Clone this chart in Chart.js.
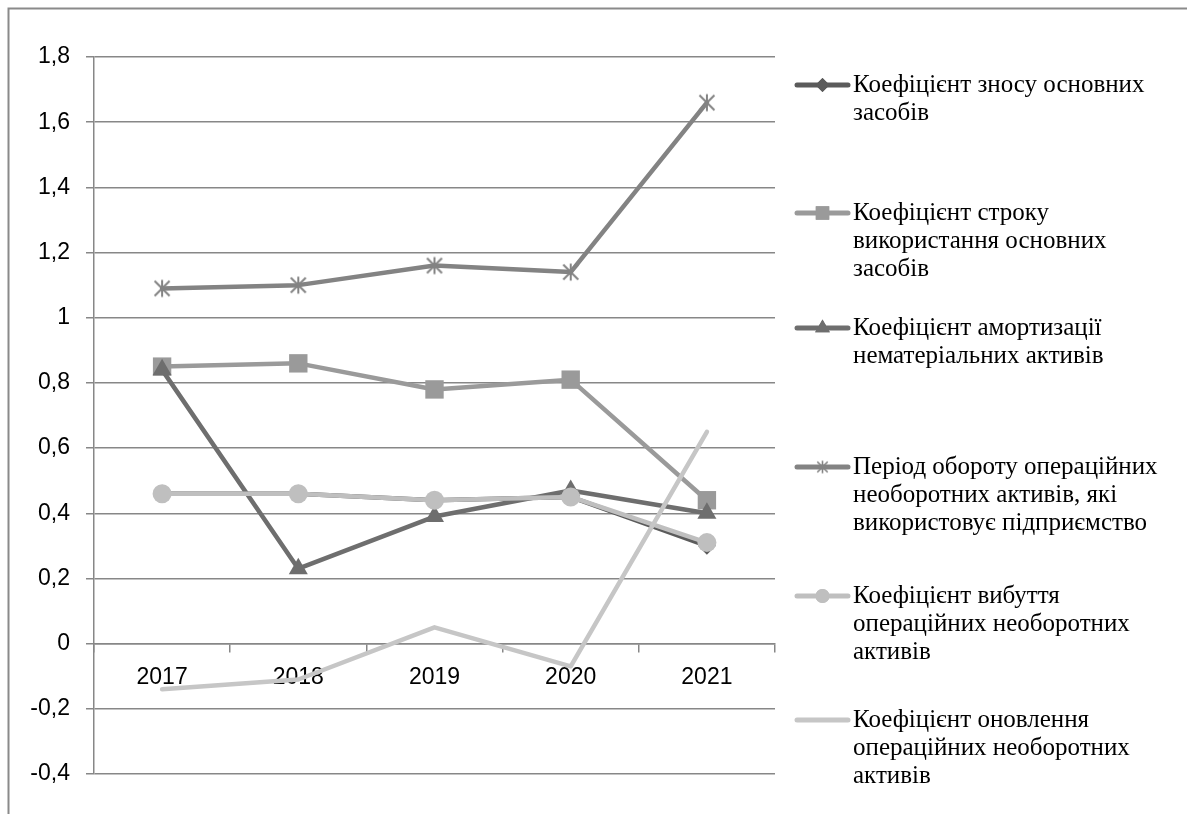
<!DOCTYPE html>
<html>
<head>
<meta charset="utf-8">
<script src="https://cdn.jsdelivr.net/npm/chart.js@4/dist/chart.umd.min.js"></script>
<style>
  html, body { margin: 0; padding: 0; background: #fff; }
  #wrap { position: relative; width: 1187px; height: 814px; }
</style>
</head>
<body>
<div id="wrap"><canvas id="c" width="1187" height="814"></canvas></div>
<script>
// Categories (years)
const years = ['2017', '2018', '2019', '2020', '2021'];

// Series names, split into the lines shown in the legend
const seriesNames = [
  ['Коефіцієнт зносу основних', 'засобів'],
  ['Коефіцієнт строку', 'використання основних', 'засобів'],
  ['Коефіцієнт амортизації', 'нематеріальних активів'],
  ['Період обороту операційних', 'необоротних активів, які', 'використовує підприємство'],
  ['Коефіцієнт вибуття', 'операційних необоротних', 'активів'],
  ['Коефіцієнт оновлення', 'операційних необоротних', 'активів']
];

// Series values
const wearRatio        = [0.46, 0.46, 0.44, 0.45, 0.30];
const usefulLifeRatio  = [0.85, 0.86, 0.78, 0.81, 0.44];
const amortIntangible  = [0.84, 0.23, 0.39, 0.47, 0.40];
const turnoverPeriod   = [1.09, 1.10, 1.16, 1.14, 1.66];
const disposalRatio    = [0.46, 0.46, 0.44, 0.45, 0.31];
const renewalRatio     = [-0.14, -0.11, 0.05, -0.07, 0.65];

// Value axis ticks
const yMin = -0.4, yMax = 1.8, yStep = 0.2;

const GRID = '#878787';
const TICK_FONT = { family: '"Liberation Sans", Arial, sans-serif', size: 23 };
const LEGEND_FONT = '25px "Liberation Serif", "Times New Roman", serif';

// asterisk marker (X with a vertical stroke)
function asterisk(size, color, lw) {
  const cv = document.createElement('canvas');
  cv.width = size; cv.height = size;
  const g = cv.getContext('2d');
  g.strokeStyle = color; g.lineWidth = lw; g.lineCap = 'butt';
  const m = lw / 2 + 0.5, s = size;
  g.beginPath();
  g.moveTo(s / 2, m); g.lineTo(s / 2, s - m);
  g.moveTo(m + 1, m + 1); g.lineTo(s - m - 1, s - m - 1);
  g.moveTo(s - m - 1, m + 1); g.lineTo(m + 1, s - m - 1);
  g.stroke();
  return cv;
}

const seriesStyle = [
  { color: '#5b5b5b', point: 'rectRot', radius: 9, legendRadius: 7 },
  { color: '#9a9a9a', point: 'rect', radius: 13, legendRadius: 9.5 },
  { color: '#6e6e6e', point: 'triangle', radius: 11, legendRadius: 8.5 },
  { color: '#838383', point: asterisk(20, '#838383', 2), radius: 10, legendPoint: asterisk(15, '#838383', 1.6) },
  { color: '#bfbfbf', point: 'circle', radius: 9.5, legendRadius: 7 },
  { color: '#c6c6c6', point: false, radius: 0 }
];

const seriesValues = [wearRatio, usefulLifeRatio, amortIntangible, turnoverPeriod, disposalRatio, renewalRatio];

const datasets = seriesValues.map((vals, i) => {
  const st = seriesStyle[i];
  return {
    label: seriesNames[i].join(' '),
    data: vals,
    borderColor: st.color,
    backgroundColor: st.color,
    borderWidth: 4.5,
    borderCapStyle: 'round',
    borderJoinStyle: 'round',
    tension: 0,
    pointStyle: st.point,
    pointRadius: st.radius,
    pointBorderWidth: 0,
    pointBackgroundColor: st.color,
    pointBorderColor: st.color,
    order: seriesValues.length - i
  };
});

// Outer frame and the legend on the right
const framePlugin = {
  id: 'frame',
  beforeDraw(chart) {
    const g = chart.ctx;
    g.save();
    g.strokeStyle = '#8a8a8a';
    g.lineWidth = 2;
    g.beginPath();
    g.moveTo(8.5, chart.height + 2);
    g.lineTo(8.5, 8.5);
    g.lineTo(chart.width + 2, 8.5);
    g.stroke();
    g.restore();
  }
};

const legendLayout = { sampleX0: 797, sampleX1: 848, textX: 853, lineGap: 28,
  firstLineY: [85, 213, 328, 467, 596, 720] };

const sideLegendPlugin = {
  id: 'sideLegend',
  afterDraw(chart) {
    const g = chart.ctx;
    const L = legendLayout;
    g.save();
    chart.data.datasets.forEach((ds, i) => {
      const st = seriesStyle[i];
      const y = L.firstLineY[i];
      g.strokeStyle = st.color;
      g.lineWidth = 5;
      g.lineCap = 'round';
      g.beginPath();
      g.moveTo(L.sampleX0, y);
      g.lineTo(L.sampleX1, y);
      g.stroke();
      const cx = (L.sampleX0 + L.sampleX1) / 2;
      if (st.legendPoint) {
        g.drawImage(st.legendPoint, cx - st.legendPoint.width / 2, y - st.legendPoint.height / 2);
      } else if (st.point) {
        g.fillStyle = st.color;
        Chart.helpers.drawPoint(g, { pointStyle: st.point, radius: st.legendRadius, borderWidth: 0, rotation: 0 }, cx, y);
        g.fill();
      }
      g.fillStyle = '#000';
      g.font = LEGEND_FONT;
      g.textBaseline = 'middle';
      g.textAlign = 'left';
      seriesNames[i].forEach((line, k) => {
        g.fillText(line, L.textX, y + k * L.lineGap);
      });
    });
    g.restore();
  }
};

new Chart(document.getElementById('c'), {
  type: 'line',
  data: { labels: years, datasets },
  plugins: [framePlugin, sideLegendPlugin],
  options: {
    responsive: false,
    animation: false,
    layout: { padding: { left: 0, top: 57, right: 412, bottom: 40 } },
    plugins: { legend: { display: false }, tooltip: { enabled: false } },
    elements: { line: { fill: false } },
    scales: {
      x: {
        type: 'category',
        position: { y: 0 },
        offset: true,
        grid: { drawOnChartArea: false, offset: true, drawTicks: true, tickLength: 8, color: GRID, lineWidth: 1.5 },
        border: { display: true, color: GRID, width: 1.5 },
        ticks: { font: TICK_FONT, color: '#000', padding: 12, maxRotation: 0 }
      },
      y: {
        min: yMin,
        max: yMax,
        grid: { color: GRID, lineWidth: 1.5, tickLength: 8, drawTicks: true },
        border: { display: true, color: GRID, width: 1.5 },
        ticks: {
          stepSize: yStep,
          font: TICK_FONT,
          color: '#000',
          padding: 16,
          callback: v => String(Math.round(v * 10) / 10).replace('.', ',')
        },
        afterFit(scale) { scale.width = 94; }
      }
    }
  }
});
</script>
</body>
</html>
